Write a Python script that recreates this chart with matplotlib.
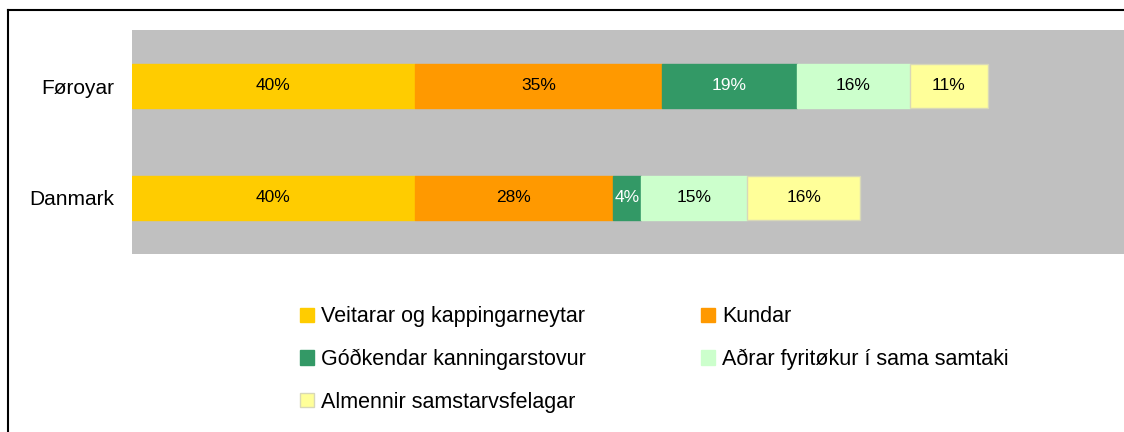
import matplotlib

matplotlib.use("Agg")
import matplotlib.pyplot as plt
from matplotlib.lines import Line2D

plt.rcParams["font.family"] = ["Liberation Sans", "DejaVu Sans"]

# share of respondents per source, stacked per country
countries = ["Danmark", "Føroyar"]
veitarar = [40, 40]
kundar = [28, 35]
godkendar = [4, 19]
adrar = [15, 16]
almennir = [16, 11]

series_names = [
    "Veitarar og kappingarneytar",
    "Kundar",
    "Góðkendar kanningarstovur",
    "Aðrar fyritøkur í sama samtaki",
    "Almennir samstarvsfelagar",
]
series = [veitarar, kundar, godkendar, adrar, almennir]
colors = ["#FFCC00", "#FF9900", "#339966", "#CCFFCC", "#FFFF99"]
text_colors = ["black", "black", "white", "black", "black"]

W, H = 1124, 432
fig = plt.figure(figsize=(W / 100, H / 100), dpi=100)
ax = fig.add_axes([132 / W, 1 - 254 / H, 1 - 132 / W, 224 / H])
ax.set_facecolor("#C0C0C0")

ypos = list(range(len(countries)))
left = [0] * len(countries)
handles = []
for name, vals, col, tcol in zip(series_names, series, colors, text_colors):
    edge = "#D8D8B8" if col == "#FFFF99" else col
    bars = ax.barh(ypos, vals, left=left, height=0.4, color=col,
                   edgecolor=edge, linewidth=1.0, label=name)
    ax.bar_label(bars, labels=[f"{v}%" for v in vals], label_type="center",
                 color=tcol, fontsize=12.5)
    handles.append(bars)
    left = [a + b for a, b in zip(left, vals)]

ax.set_xlim(0, 140.3)
ax.set_ylim(-0.5, 1.5)
ax.set_yticks(ypos)
ax.set_yticklabels(countries, fontsize=15)
ax.set_xticks([])
ax.tick_params(axis="y", length=0, pad=13)
for s in ax.spines.values():
    s.set_visible(False)

# legend laid out row by row in two columns
order = [0, 2, 4, 1, 3]
leg = ax.legend([handles[i] for i in order], [series_names[i] for i in order],
                ncol=2, frameon=False, fontsize=15.5,
                loc="upper left", bbox_to_anchor=(159 / 992, -0.195),
                handlelength=0.65, handleheight=0.65, handletextpad=0.33,
                columnspacing=5.35, labelspacing=1.0, borderaxespad=0)

# chart frame
fig.add_artist(Line2D([8 / W, 8 / W], [0, 1 - 10 / H], color="black", lw=1.5))
fig.add_artist(Line2D([8 / W, 1], [1 - 10 / H, 1 - 10 / H], color="black", lw=1.5))

fig.savefig("out.png", dpi=100)
